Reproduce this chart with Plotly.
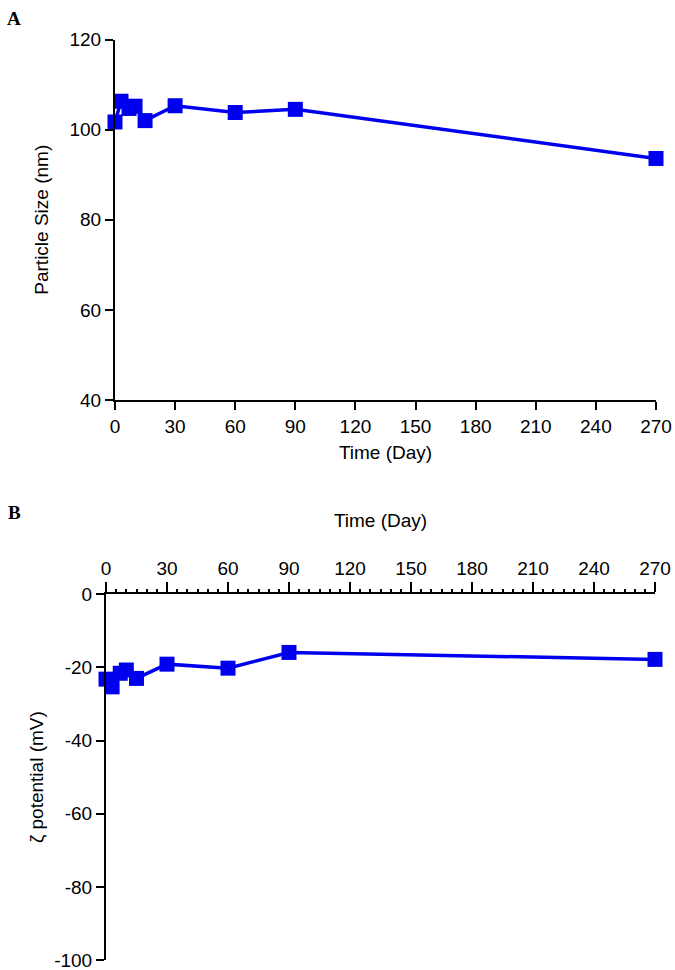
import plotly.graph_objects as go

# Data
days = [0, 3, 7, 10, 15, 30, 60, 90, 270]
particle_size_nm = [101.7, 106.3, 104.7, 105.2, 102.0, 105.3, 103.8, 104.5, 93.6]
zeta_potential_mV = [-23.2, -25.3, -21.6, -20.7, -23.0, -19.1, -20.2, -15.9, -17.8]

x_ticks = [0, 30, 60, 90, 120, 150, 180, 210, 240, 270]
size_ticks = [40, 60, 80, 100, 120]
zeta_ticks = [0, -20, -40, -60, -80, -100]
zeta_ticktext = ["0", "-20", "-40", "-60", "-80", "-100"]

W, H = 675, 970
BLUE = "#0000EE"
FONT = "Liberation Sans, Arial, sans-serif"
FS = 19

def px(x):
    return x / W

def py(y):
    return 1 - y / H

fig = go.Figure()
fig.add_trace(go.Scatter(
    x=days, y=particle_size_nm, mode="lines+markers",
    line=dict(color=BLUE, width=3.5),
    marker=dict(symbol="square", size=15, color=BLUE),
    cliponaxis=False, xaxis="x", yaxis="y", showlegend=False))
fig.add_trace(go.Scatter(
    x=days, y=zeta_potential_mV, mode="lines+markers",
    line=dict(color=BLUE, width=3.5),
    marker=dict(symbol="square", size=15, color=BLUE),
    cliponaxis=False, xaxis="x2", yaxis="y2", showlegend=False))

axis_common = dict(showline=True, linecolor="black", linewidth=2,
                   ticks="outside", tickcolor="black", tickwidth=1.5,
                   showgrid=False, zeroline=False, automargin=False,
                   ticklabeloverflow="allow",
                   tickfont=dict(family=FONT, size=FS, color="black"))

fig.update_layout(
    width=W, height=H,
    margin=dict(l=0, r=0, t=0, b=0),
    paper_bgcolor="white", plot_bgcolor="white",
    font=dict(family=FONT, size=FS, color="black"),
    xaxis=dict(domain=[px(115), px(656)], anchor="y", range=[0, 270],
               tickvals=x_ticks, ticklen=8,
               title=dict(text="Time (Day)", standoff=10,
                          font=dict(family=FONT, size=FS)),
               **axis_common),
    yaxis=dict(domain=[py(400), py(39.5)], anchor="x", range=[40, 120],
               tickvals=size_ticks, ticklen=8,
               title=dict(text="Particle Size (nm)", standoff=16,
                          font=dict(family=FONT, size=FS)),
               **axis_common),
    xaxis2=dict(domain=[px(106), px(655)], anchor="y2", side="top",
                range=[0, 270], tickvals=x_ticks, ticklen=10,
                minor=dict(dtick=5, ticklen=3, tickwidth=2,
                           tickcolor="black", ticks="outside"),
                title=dict(text="Time (Day)", standoff=25,
                           font=dict(family=FONT, size=FS)),
                **axis_common),
    yaxis2=dict(domain=[py(960), py(594.3)], anchor="x2", range=[-100, 0],
                tickvals=zeta_ticks, ticktext=zeta_ticktext, ticklen=8,
                title=dict(text="ζ potential (mV)", standoff=6,
                           font=dict(family=FONT, size=FS)),
                **axis_common),
    annotations=[
        dict(text="<b>A</b>", x=px(14), y=py(18), xref="paper", yref="paper",
             xanchor="center", yanchor="middle", showarrow=False,
             font=dict(family="Liberation Serif, Times New Roman, serif", size=19, color="black")),
        dict(text="<b>B</b>", x=px(14), y=py(512), xref="paper", yref="paper",
             xanchor="center", yanchor="middle", showarrow=False,
             font=dict(family="Liberation Serif, Times New Roman, serif", size=19, color="black")),
    ],
)

fig.write_html("out.html",
               config={"displayModeBar": False},
               post_script="document.body.style.margin='0';document.body.style.padding='0';")
